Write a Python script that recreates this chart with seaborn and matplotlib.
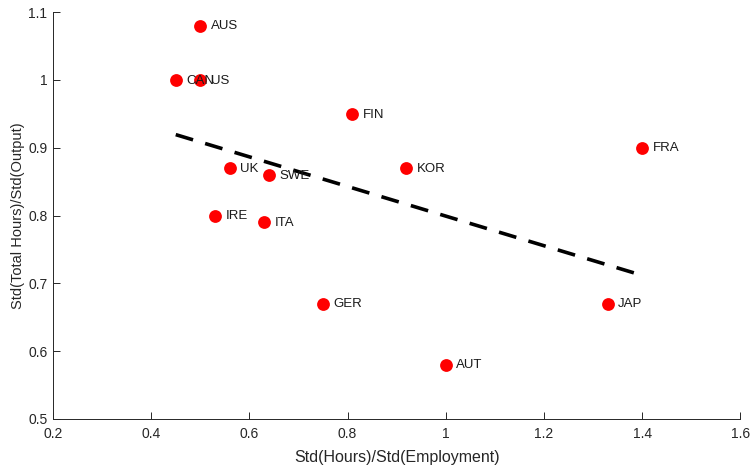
import numpy as np
import pandas as pd
import matplotlib
matplotlib.use('Agg')
import matplotlib.pyplot as plt
import seaborn as sns

countries = ['AUS', 'CAN', 'US', 'FIN', 'FRA', 'UK', 'SWE', 'KOR', 'IRE', 'ITA', 'GER', 'JAP', 'AUT']
hours_emp = [0.50, 0.45, 0.50, 0.81, 1.40, 0.56, 0.64, 0.92, 0.53, 0.63, 0.75, 1.33, 1.00]
hours_out = [1.08, 1.00, 1.00, 0.95, 0.90, 0.87, 0.86, 0.87, 0.80, 0.79, 0.67, 0.67, 0.58]

xticks = [0.2, 0.4, 0.6, 0.8, 1.0, 1.2, 1.4, 1.6]
yticks = [0.5, 0.6, 0.7, 0.8, 0.9, 1.0, 1.1]

df = pd.DataFrame({'country': countries, 'x': hours_emp, 'y': hours_out})

sns.set_style('ticks')
plt.rcParams['font.family'] = ['Liberation Sans', 'DejaVu Sans']
plt.rcParams['xtick.direction'] = 'in'
plt.rcParams['ytick.direction'] = 'in'

fig = plt.figure(figsize=(7.52, 4.65), dpi=100)
ax = fig.add_axes([0.0705, 0.099, 0.914, 0.875])

# fitted line (OLS) over the data range
sns.regplot(data=df, x='x', y='y', ax=ax, scatter=False, ci=None, truncate=True,
            line_kws={'color': 'black', 'lw': 2.6, 'ls': (0, (5, 3.5))})
sns.scatterplot(data=df, x='x', y='y', ax=ax, color='red', s=85, edgecolor='red',
                linewidth=0, zorder=3)

for c, xv, yv in zip(countries, hours_emp, hours_out):
    ax.annotate(c, (xv, yv), xytext=(7.5, -0.5), textcoords='offset points',
                va='center', ha='left', fontsize=9.5, color='#1a1a1a')

ax.set_xlim(0.2, 1.6)
ax.set_ylim(0.5, 1.1)
ax.set_xticks(xticks)
ax.set_yticks(yticks)
ax.xaxis.set_major_formatter(matplotlib.ticker.FormatStrFormatter('%g'))
ax.yaxis.set_major_formatter(matplotlib.ticker.FormatStrFormatter('%g'))
ax.tick_params(labelsize=10, colors='#262626', length=5, width=0.7)
ax.tick_params(axis='x', pad=6)
ax.tick_params(axis='y', pad=4)
ax.set_xlabel('Std(Hours)/Std(Employment)', fontsize=11.5, color='#262626', labelpad=6)
ax.set_ylabel('Std(Total Hours)/Std(Output)', fontsize=10.5, color='#262626', labelpad=2)
for s in ['left', 'bottom']:
    ax.spines[s].set_color('#262626')
    ax.spines[s].set_linewidth(0.7)
sns.despine(ax=ax)

fig.savefig('out.png', dpi=100)
